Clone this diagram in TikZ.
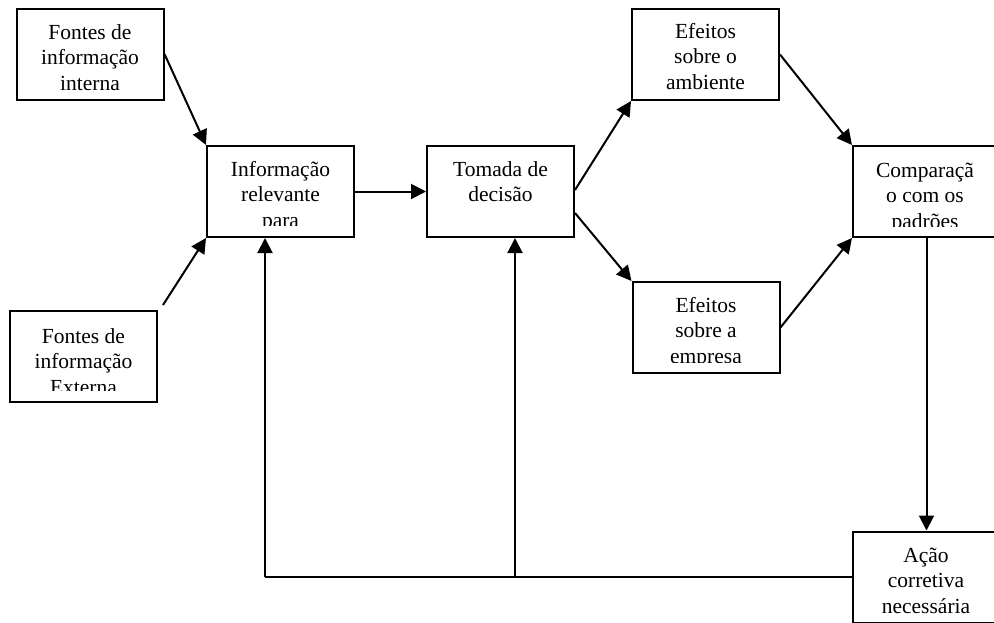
\documentclass[tikz,border=0pt]{standalone}
\usepackage{fontspec}
\setmainfont{Liberation Serif}
\usetikzlibrary{arrows.meta,calc}

\tikzset{
  box/.style={draw, line width=2pt, inner sep=0pt, minimum width=147pt, minimum height=91pt},
  txt/.style={inner sep=0pt, anchor=base},
  link/.style={line width=2pt, -{Triangle[length=15pt,width=15pt]}},
  plain/.style={line width=2pt},
}
% text block with fixed line spacing, baseline at its first line
\newcommand{\boxtext}[1]{\parbox[t]{145pt}{\centering\fontsize{21.5pt}{25.5pt}\selectfont #1}}

\begin{document}
\begin{tikzpicture}[x=1pt,y=-1pt]
\useasboundingbox (0,0) rectangle (994,622);
\clip (0,0) rectangle (994,622);

% boxes
\node[box] (fi) at (90,54)    {};
\node[box] (fe) at (83.5,356.5) {};
\node[box] (ir) at (280.5,191.5) {};
\node[box] (td) at (500.5,191.5) {};
\node[box] (ea) at (705.5,54.5) {};
\node[box] (ee) at (706,327.5) {};
\node[box] (cp) at (926.5,191.5) {};
\node[box] (ac) at (926.5,577) {};

% labels
\node[txt] (fi-t) at (90,39) {\boxtext{Fontes de\\informação\\interna}};
\begin{scope}
  \clip (0,300) rectangle (200,390);
  \node[txt] (fe-t) at (83.5,343) {\boxtext{Fontes de\\informação\\Externa}};
\end{scope}
\begin{scope}
  \clip (200,140) rectangle (360,225);
  \node[txt] (ir-t) at (280.5,176) {\boxtext{Informação\\relevante\\para}};
\end{scope}
\node[txt] (td-t) at (500.5,176) {\boxtext{Tomada de\\decisão}};
\node[txt] (ea-t) at (705.5,38) {\boxtext{Efeitos\\sobre o\\ambiente}};
\begin{scope}
  \clip (620,270) rectangle (790,362);
  \node[txt] (ee-t) at (706,312) {\boxtext{Efeitos\\sobre a\\empresa}};
\end{scope}
\begin{scope}
  \clip (850,140) rectangle (994,226);
  \node[txt] (cp-t) at (925,177) {\boxtext{Comparaçã\\o com os\\padrões}};
\end{scope}
\node[txt] (ac-t) at (926,562) {\boxtext{Ação\\corretiva\\necessária}};

% connectors
\coordinate (fe-end) at (163,305);
\draw[link] (fi.east) -- (ir.north west);
\draw[link] (fe-end) -- (ir.south west);
\draw[link] (ir.east) -- (td.west);
\draw[link] ([yshift=1.5pt]td.east) -- (ea.south west);
\draw[link] ([yshift=-21.5pt]td.east) -- (ee.north west);
\draw[link] (ea.east) -- (cp.north west);
\draw[link] (ee.east) -- (cp.south west);
\draw[link] (cp.south) -- (ac.north);

% feedback from the corrective action
\coordinate (fb-l) at ($(ir.south)+(-15.5,0)$);
\coordinate (fb-m) at ($(td.south)+(14.5,0)$);
\draw[plain] (ac.west) -- (fb-l |- ac.west);
\draw[link] (fb-l |- ac.west) -- (fb-l);
\draw[link] (fb-m |- ac.west) -- (fb-m);
\end{tikzpicture}
\end{document}
